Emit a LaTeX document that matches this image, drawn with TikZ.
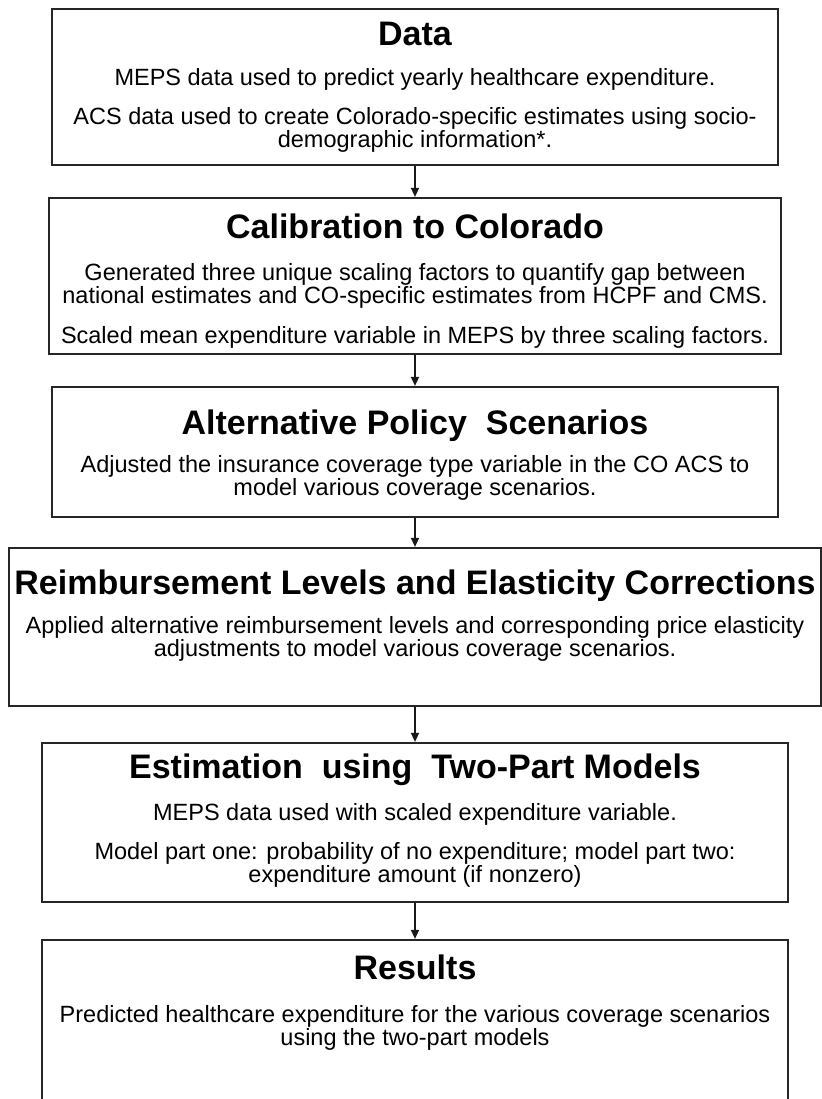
\documentclass[tikz,border=0pt]{standalone}
\usepackage{fontspec}
\setmainfont{Liberation Sans}
\usetikzlibrary{arrows.meta}
\begin{document}
\begin{tikzpicture}[x=1pt,y=-1pt,
  stage/.style={draw=black!85, line width=2.2pt, fill=white, inner sep=0pt},
  heading/.style={anchor=base, inner sep=0pt, font=\bfseries\fontsize{34}{40}\selectfont},
  detail/.style={anchor=base, inner sep=0pt, font=\fontsize{23.5}{23}\selectfont},
  flow/.style={line width=1.5pt, draw=black!90, -{Triangle[length=9pt,width=8pt]}}]
\useasboundingbox (0,0) rectangle (821,1099);

% stage boxes
\node[stage, minimum width=726pt, minimum height=156pt] (data)   at (415,87)    {};
\node[stage, minimum width=732pt, minimum height=156pt] (calib)  at (415,276)   {};
\node[stage, minimum width=726pt, minimum height=130pt] (policy) at (415,452)   {};
\node[stage, minimum width=812pt, minimum height=158pt] (reimb)  at (415,627)   {};
\node[stage, minimum width=746pt, minimum height=159pt] (est)    at (415,822.5) {};
\node[stage, minimum width=746pt, minimum height=161pt] (res)    at (415,1020.5){};

% Data
\node[heading] (dataH) at (415,46) {Data};
\node[detail] (dataA) at (415,86) {MEPS data used to predict yearly healthcare expenditure.};
\node[detail] (dataB) at (415,125) {ACS data used to create Colorado-specific estimates using socio-};
\node[detail] (dataC) at (415,148) {demographic information*.};

% Calibration
\node[heading] (calibH) at (415,238) {Calibration to Colorado};
\node[detail] (calibA) at (415,280) {Generated three unique scaling factors to quantify gap between};
\node[detail] (calibB) at (415,303) {national estimates and CO-specific estimates from HCPF and CMS.};
\node[detail] (calibC) at (415,343) {Scaled mean expenditure variable in MEPS by three scaling factors.};

% Policy scenarios
\node[heading] (policyH) at (415,434) {Alternative Policy~ Scenarios};
\node[detail] (policyA) at (415,472) {Adjusted the insurance coverage type variable in the CO ACS to};
\node[detail] (policyB) at (415,495) {model various coverage scenarios.};

% Reimbursement
\node[heading] (reimbH) at (415,594) {Reimbursement Levels and Elasticity Corrections};
\node[detail] (reimbA) at (415,633) {Applied alternative reimbursement levels and corresponding price elasticity};
\node[detail] (reimbB) at (415,656) {adjustments to model various coverage scenarios.};

% Estimation
\node[heading] (estH) at (415,778) {Estimation~ using~ Two-Part Models};
\node[detail] (estA) at (415,820) {MEPS data used with scaled expenditure variable.};
\node[detail] (estB) at (415,859) {Model part one: probability of no expenditure; model part two:};
\node[detail] (estC) at (415,882) {expenditure amount (if nonzero)};

% Results
\node[heading] (resH) at (415,979) {Results};
\node[detail] (resA) at (415,1022) {Predicted healthcare expenditure for the various coverage scenarios};
\node[detail] (resB) at (415,1045) {using the two-part models};

% flow between stages
\draw[flow] (data.south)   -- (calib.north);
\draw[flow] (calib.south)  -- (policy.north);
\draw[flow] (policy.south) -- (reimb.north);
\draw[flow] (reimb.south)  -- (est.north);
\draw[flow] (est.south)    -- (res.north);
\end{tikzpicture}
\end{document}
